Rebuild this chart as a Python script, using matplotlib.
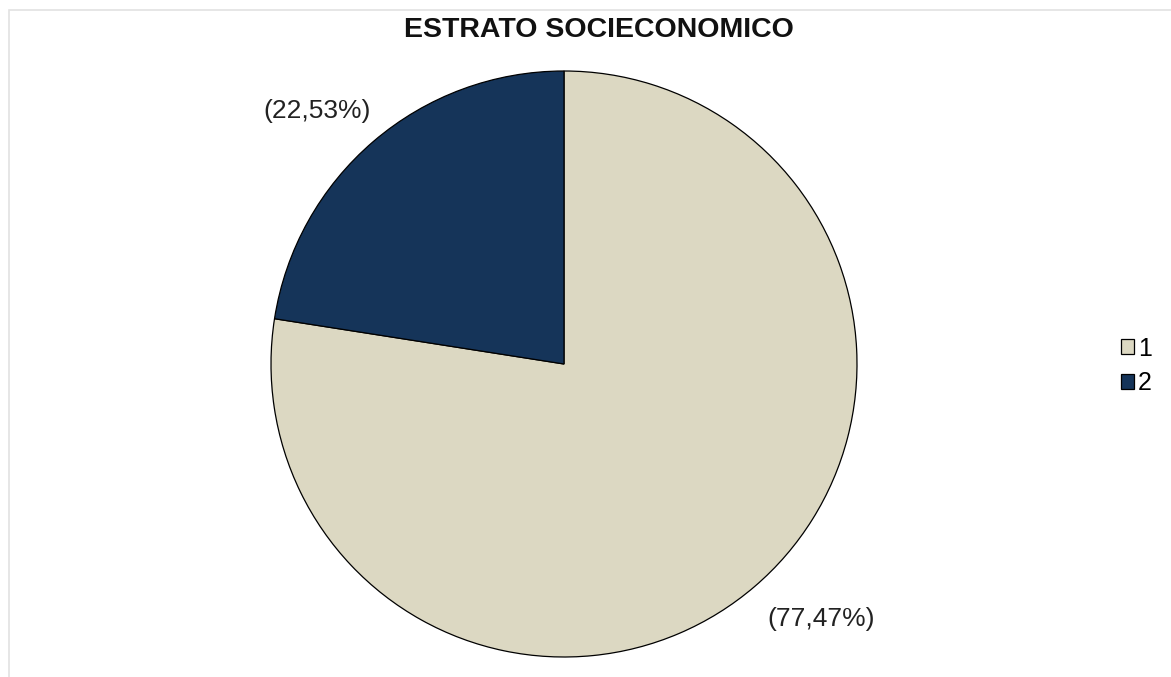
import numpy as np
import matplotlib
matplotlib.use("Agg")
import matplotlib.pyplot as plt
from matplotlib.patches import Rectangle

plt.rcParams["font.family"] = ["Liberation Sans", "DejaVu Sans"]

# ── Data ────────────────────────────────────────────────────────────────────
categories = ["1", "2"]
percentages = [77.47, 22.53]
label_texts = ["(77,47%)", "(22,53%)"]
colors = ["#DCD8C2", "#153459"]

W, H = 1171, 677
fig = plt.figure(figsize=(W / 100, H / 100), dpi=100)

# light frame on top/left like the source export
fig.add_artist(Rectangle((9 / W, -0.1), 1.2, 1.1 - 10 / H, transform=fig.transFigure,
                         fill=False, edgecolor="#e2e2e2", linewidth=1.2))

# pie centre (564, 364) px, radius ~293 px
cx, cy, r = 564, 364, 293
ax = fig.add_axes([(cx - r) / W, (H - cy - r) / H, 2 * r / W, 2 * r / H])
wedges, _ = ax.pie(percentages, colors=colors, startangle=90, counterclock=False,
                   wedgeprops=dict(edgecolor="black", linewidth=0.9))
ax.set_xlim(-1, 1)
ax.set_ylim(-1, 1)
ax.set_aspect("equal")
ax.axis("off")

# percentage labels outside the pie on the diagonals
for txt, ang, dist in zip(label_texts, [-44.8, 134.3], [1.235, 1.205]):
    a = np.deg2rad(ang)
    ax.text(dist * np.cos(a), dist * np.sin(a), txt, ha="center", va="center",
            fontsize=19, color="#222222", clip_on=False)

fig.text(599 / W, 1 - 37 / H, "ESTRATO SOCIECONOMICO", ha="center", va="baseline",
         fontsize=20.5, fontweight="bold", color="#111111")

fig.legend(wedges, categories, loc="center left", bbox_to_anchor=(1108 / W, 1 - 366 / H),
           frameon=False, fontsize=18, handlelength=0.55, handleheight=0.55,
           handletextpad=0.15, labelspacing=0.42, borderpad=0)

fig.savefig("out.png", dpi=100)
